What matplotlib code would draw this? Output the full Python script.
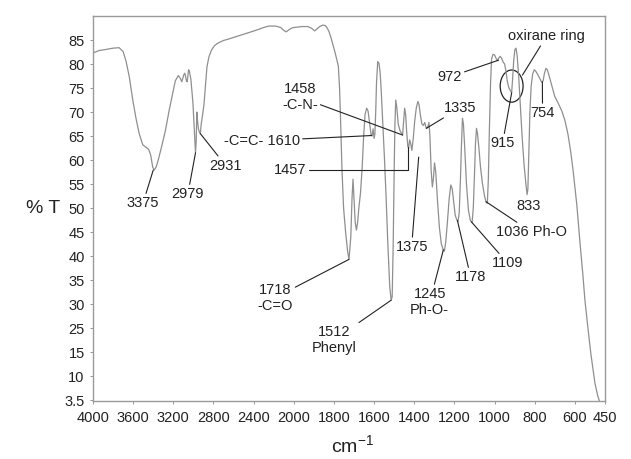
import numpy as np
import matplotlib
matplotlib.use("Agg")
import matplotlib.pyplot as plt
from matplotlib.patches import Ellipse

plt.rcParams['font.family'] = ['Liberation Sans', 'DejaVu Sans']
plt.rcParams['mathtext.fontset'] = 'custom'
plt.rcParams['mathtext.rm'] = 'Liberation Sans'
plt.rcParams['mathtext.it'] = 'Liberation Sans:italic'

# FTIR spectrum, wavenumber (cm-1) vs transmittance
wavenumber = [4000, 3940, 3880, 3800, 3740, 3700, 3670, 3640, 3600, 3570, 3540, 3505, 3470, 3445,
              3425, 3405, 3390, 3370, 3350, 3320, 3280, 3240, 3205, 3180, 3150, 3130, 3115, 3095,
              3085, 3070, 3062, 3048, 3040, 3025, 3005, 2990, 2979, 2972, 2966, 2958, 2950, 2940,
              2931, 2922, 2910, 2895, 2880, 2865, 2845, 2820, 2790, 2760, 2700, 2650, 2560, 2470,
              2380, 2300, 2250, 2180, 2130, 2100, 2075, 2050, 2020, 2000, 1960, 1930, 1910, 1896,
              1885, 1871, 1855, 1843, 1835, 1825, 1815, 1805, 1795, 1785, 1778, 1772, 1766, 1760,
              1752, 1742, 1732, 1725, 1716, 1710, 1705, 1700, 1694, 1688, 1682, 1676, 1668, 1660,
              1652, 1645, 1637, 1630, 1622, 1615, 1610, 1605, 1600, 1596, 1592, 1588, 1582, 1576,
              1570, 1564, 1556, 1548, 1540, 1532, 1522, 1515, 1510, 1505, 1500, 1496, 1492, 1487,
              1480, 1470, 1462, 1458, 1453, 1448, 1443, 1438, 1432, 1428, 1423, 1418, 1412, 1405,
              1398, 1390, 1382, 1376, 1370, 1362, 1355, 1348, 1340, 1333, 1327, 1322, 1316, 1310,
              1305, 1299, 1293, 1285, 1275, 1265, 1255, 1250, 1243, 1235, 1226, 1218, 1211, 1204,
              1196, 1188, 1182, 1176, 1170, 1165, 1160, 1155, 1148, 1140, 1130, 1120, 1112, 1106,
              1100, 1095, 1090, 1085, 1078, 1070, 1060, 1050, 1042, 1036, 1031, 1026, 1020, 1015,
              1008, 1000, 993, 986, 980, 972, 965, 957, 950, 943, 937, 930, 922, 915, 910, 905,
              899, 893, 887, 880, 872, 863, 853, 844, 838, 834, 829, 824, 818, 810, 802, 795, 785,
              775, 765, 758, 752, 744, 737, 728, 715, 700, 685, 665, 650, 635, 620, 608, 600, 590,
              575, 560, 550, 535, 520, 500, 487, 475, 455]
transmittance = [82.3, 82.8, 83.0, 83.3, 83.4, 82.6, 80.5, 77.5, 72.0, 68.5, 65.5, 63.2, 62.6, 62.2,
                 61.0, 58.5, 57.9, 58.6, 60.0, 62.5, 66.0, 70.5, 74.0, 76.5, 77.6, 77.0, 76.3, 77.8,
                 78.1, 76.6, 76.3, 78.8, 78.5, 76.8, 72.0, 66.0, 61.5, 64.0, 70.0, 68.0, 66.5, 65.8,
                 65.5, 67.5, 69.2, 71.5, 75.5, 79.4, 81.5, 82.9, 83.8, 84.3, 84.9, 85.2, 85.8, 86.4,
                 87.0, 87.6, 87.9, 87.9, 87.6, 87.0, 86.7, 87.1, 87.5, 87.6, 87.8, 87.8, 87.4, 86.9,
                 87.3, 87.8, 88.1, 88.0, 87.6, 86.8, 85.5, 84.0, 82.5, 80.8, 79.5, 75.0, 67.0, 58.0,
                 50.0, 45.0, 41.0, 39.3, 44.0, 52.0, 56.0, 52.0, 47.0, 45.4, 47.0, 50.0, 53.0, 58.0,
                 65.0, 69.5, 70.8, 70.2, 67.5, 65.2, 65.0, 66.5, 64.5, 65.5, 70.0, 76.0, 80.5, 80.2,
                 78.3, 74.0, 67.0, 60.0, 52.0, 43.0, 33.5, 30.8, 31.5, 42.0, 58.0, 68.0, 72.5, 71.0,
                 67.5, 66.0, 65.5, 65.2, 68.0, 70.8, 69.5, 66.0, 62.8, 62.5, 64.2, 63.5, 62.0, 64.5,
                 68.0, 70.8, 72.2, 71.5, 69.5, 67.5, 67.2, 67.8, 66.6, 66.8, 67.8, 65.0, 58.0, 54.4,
                 56.0, 59.4, 57.5, 52.0, 46.0, 42.5, 41.2, 41.0, 43.0, 47.0, 52.0, 54.8, 54.0, 51.5,
                 48.5, 47.5, 47.2, 49.0, 56.0, 63.0, 68.7, 67.5, 62.0, 55.0, 49.5, 47.3, 47.0, 50.0,
                 57.0, 63.5, 66.6, 65.5, 62.5, 58.5, 55.0, 52.5, 51.2, 51.0, 56.0, 66.0, 76.0, 81.0,
                 82.0, 81.9, 81.2, 80.7, 81.2, 81.6, 81.2, 80.4, 80.0, 78.5, 76.5, 75.2, 74.5, 74.0,
                 77.0, 80.5, 83.0, 83.3, 81.5, 77.5, 71.5, 65.0, 59.0, 55.0, 52.8, 54.0, 62.0, 70.0,
                 75.3, 78.0, 78.8, 78.5, 77.8, 77.0, 76.2, 76.5, 78.0, 79.1, 78.8, 77.5, 75.5, 73.2,
                 72.0, 70.2, 68.3, 65.5, 61.5, 57.5, 54.4, 50.5, 43.0, 36.0, 30.8, 25.0, 19.5, 13.5,
                 11.0, 9.4, 7.5]

xticks = [4000, 3600, 3200, 2800, 2400, 2000, 1800, 1600, 1400, 1200, 1000, 800, 600, 450]
yticks = [85, 80, 75, 70, 65, 60, 55, 50, 45, 40, 35, 30, 25, 20, 15, 10]
ytick_labels = ['85', '80', '75', '70', '65', '60', '55', '50', '45', '40', '35', '30', '25',
                '15', '10', '3.5']

# label, text position, point on the band (None = no leader line)
peak_labels = [
    ("3375", (3502, 51.0), (3400, 57.9)),
    ("2979", (3055, 52.9), (2979, 61.5)),
    ("2931", (2677, 58.8), (2931, 65.5)),
    ("-C=C- 1610", (2318, 64.0), (1612, 65.1)),
    ("1458\n-C-N-", (1970, 73.1), (1458, 65.2)),
    ("1335", (1174, 70.8), (1340, 66.6)),
    ("972", (1224, 77.3), (980, 80.8)),
    ("915", (960, 63.5), (915, 74.0)),
    ("754", (761, 69.8), (762, 76.3)),
    ("833", (831, 50.4), None),
    ("1036 Ph-O", (816, 45.0), (1042, 51.3)),
    ("1109", (935, 38.5), (1115, 47.1)),
    ("1178", (1119, 35.6), (1185, 47.4)),
    ("1245\nPh-O-", (1323, 30.4), (1255, 41.3)),
    ("1375", (1413, 41.9), (1378, 60.6)),
    ("1718\n-C=O", (2189, 31.3), (1725, 39.3)),
    ("1512\nPhenyl", (1801, 22.5), (1515, 30.8)),
]


# above 2000 cm-1 the axis is compressed by half
def fwd(w):
    w = np.asarray(w, dtype=float)
    return np.where(w <= 2000, w / 200.0, 10 + (w - 2000) / 400.0)


def inv(u):
    u = np.asarray(u, dtype=float)
    return np.where(u <= 10, u * 200.0, 2000 + (u - 10) * 400.0)


fig = plt.figure(figsize=(6.31, 4.59), dpi=100)
ax = fig.add_axes([93 / 631, 58 / 459, 512 / 631, 385 / 459])
ax.set_xscale('function', functions=(fwd, inv))

ax.plot(wavenumber, transmittance, color='#8f8f8f', lw=0.9)

ax.set_xlim(4000, 450)
ax.set_ylim(9.8, 90)
ax.set_xticks(xticks)
ax.set_xticklabels([str(t) for t in xticks])
ax.set_yticks(yticks)
ax.set_yticklabels(ytick_labels)
ax.minorticks_off()
ax.tick_params(axis='both', labelsize=10.5, length=2, width=0.6, color='#888888',
               labelcolor='#222222')
ax.tick_params(axis='x', pad=5)
ax.tick_params(axis='y', pad=4)
for s in ax.spines.values():
    s.set_color('#9a9a9a')
    s.set_linewidth(1.0)

ax.set_ylabel('% T', rotation=0, fontsize=14, color='#222222', ha='center', va='center')
ax.yaxis.set_label_coords(-0.098, 0.50)
ax.set_xlabel(r'cm$^{-1}$', fontsize=14, color='#222222', va='center')
ax.xaxis.set_label_coords(0.506, -0.115)

line_kw = dict(arrowstyle='-', color='#222222', lw=0.8, shrinkA=0, shrinkB=0)
for text, txy, pxy in peak_labels:
    if pxy is None:
        ax.text(txy[0], txy[1], text, fontsize=10.5, color='#222222', ha='center', va='center')
    else:
        ax.annotate(text, xy=pxy, xytext=txy, fontsize=10.5, color='#222222',
                    ha='center', va='center', arrowprops=line_kw)

# 1457 with elbow leader
ax.annotate("1457", xy=(1430, 62.7), xytext=(2040, 57.9), fontsize=10.5, color='#222222',
            ha='center', va='center',
            arrowprops=dict(line_kw, connectionstyle='angle,angleA=0,angleB=90,rad=0'))

# oxirane ring marker
ax.add_patch(Ellipse((915, 75.4), width=114, height=6.7, fill=False, ec='#222222', lw=0.9))
ax.annotate("oxirane ring", xy=(861, 77.7), xytext=(741, 85.8), fontsize=10.5,
            color='#222222', ha='center', va='center', arrowprops=line_kw)

fig.savefig('out.png', dpi=100)
